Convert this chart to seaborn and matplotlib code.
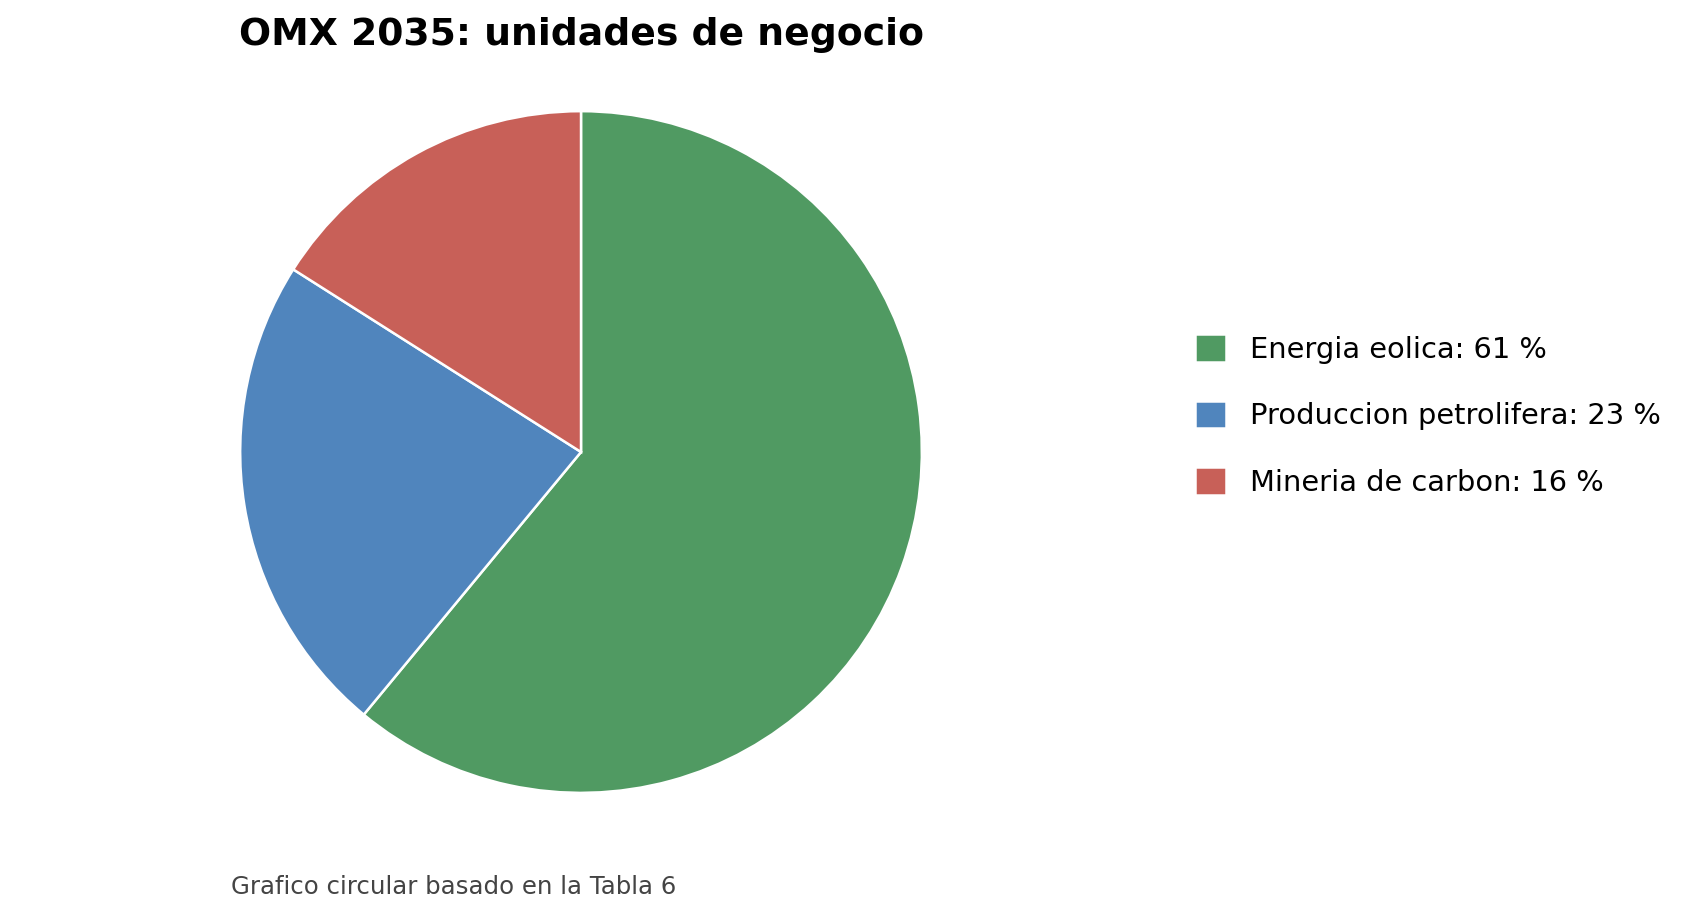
import matplotlib
matplotlib.use("Agg")
import matplotlib.pyplot as plt
import seaborn as sns

# --- Data ---
segments = ['Energia eolica', 'Produccion petrolifera', 'Mineria de carbon']
shares = [61, 23, 16]
colors = ['#509A62', '#5085BD', '#C86058']

# --- Style ---
sns.set_theme(style='white')
plt.rcParams['font.family'] = ['DejaVu Sans']
plt.rcParams['text.color'] = 'black'
palette = sns.color_palette(colors)

fig = plt.figure(figsize=(16.89, 9.15), dpi=100)
ax = fig.add_axes([0.142, 0.1335, 0.404, 0.745])

wedges, _ = ax.pie(shares, colors=palette, startangle=90, counterclock=False,
                   wedgeprops=dict(edgecolor='white', linewidth=1.8))
ax.set_xlim(-1, 1)
ax.set_ylim(-1, 1)
ax.set_aspect('equal')

labels = [f'{s}: {v} %' for s, v in zip(segments, shares)]
fig.legend(wedges, labels, loc='center left', bbox_to_anchor=(0.7005, 0.546),
           frameon=False, fontsize=20.8, handlelength=1.08, handleheight=1.1,
           handletextpad=0.82, labelspacing=1.27, borderaxespad=0,
           labelcolor='black')

fig.text(0.344, 1 - 45 / 915, 'OMX 2035: unidades de negocio', ha='center',
         va='baseline', fontsize=27.2, fontweight='bold', color='black')
fig.text(0.137, 1 - 894 / 915, 'Grafico circular basado en la Tabla 6',
         ha='left', va='baseline', fontsize=17.6, color='#444444')

fig.savefig('out.png', dpi=100)
